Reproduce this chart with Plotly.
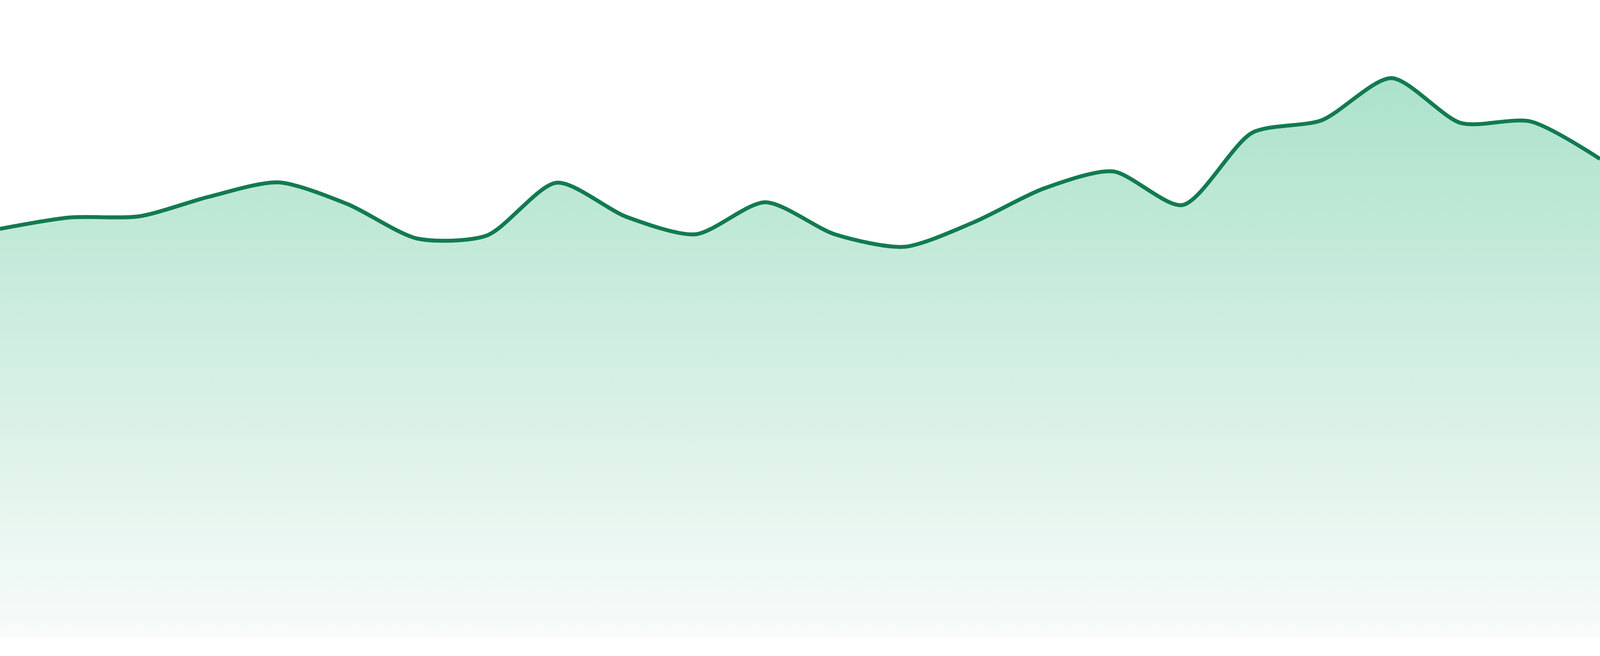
import plotly.graph_objects as go

# points along the series (evenly spaced)
points = list(range(24))
values = [104.6, 107.5, 107.8, 112.8, 116.5, 110.9, 102.1, 102.9,
          116.4, 107.7, 103.2, 111.4, 103.2, 100.0, 106.3, 114.9,
          119.3, 110.7, 129.2, 132.4, 143.2, 131.7, 132.1, 122.5]

line_color = "#127b50"
fill_top = "rgb(172,226,203)"
fill_bottom = "rgb(248,251,250)"

fig = go.Figure()

fig.add_trace(go.Scatter(
    x=points,
    y=values,
    mode="lines",
    line=dict(color=line_color, width=10, shape="spline", smoothing=0.75),
    fill="tozeroy",
    fillgradient=dict(
        type="vertical",
        start=0,
        stop=max(values),
        colorscale=[[0, fill_bottom], [1, fill_top]],
    ),
    hoverinfo="skip",
    showlegend=False,
))

# no margins, the empty strip under the area comes from the y range
fig.update_layout(
    autosize=True,
    margin=dict(l=0, r=0, t=0, b=0),
    paper_bgcolor="white",
    plot_bgcolor="white",
    showlegend=False,
)
fig.update_xaxes(visible=False, range=[0, len(points) - 1], showgrid=False, zeroline=False)
fig.update_yaxes(visible=False, range=[-4.8, 163.2], showgrid=False, zeroline=False)

# drop the default body margin so the chart runs edge to edge
post = ("document.body.style.margin='0';"
        "document.body.style.overflow='hidden';"
        "Plotly.Plots.resize(document.getElementById('{plot_id}'));")

fig.write_html("out.html", default_width="100vw", default_height="100vh",
               config={"displayModeBar": False, "staticPlot": True},
               post_script=post)
